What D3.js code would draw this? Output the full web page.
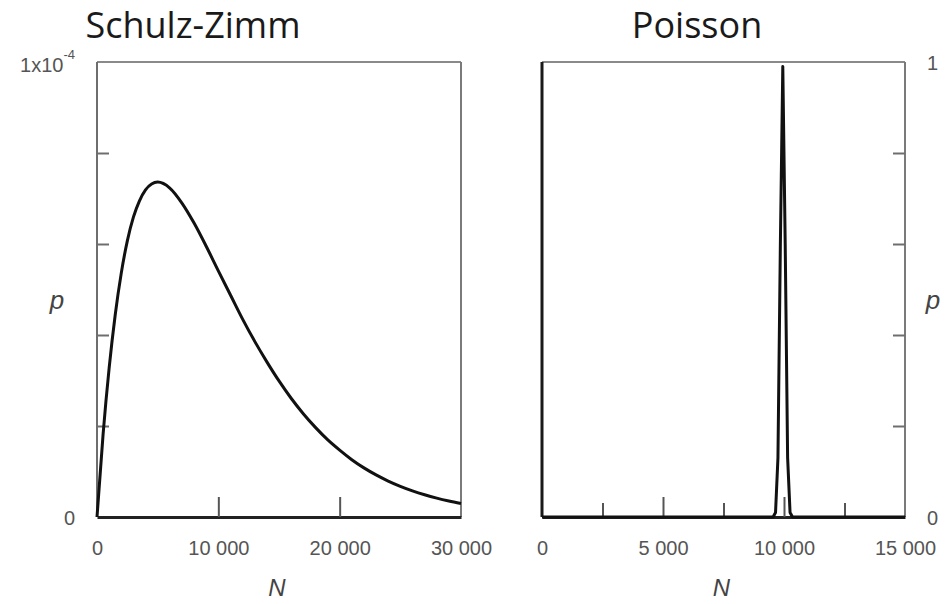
<!DOCTYPE html>
<html><head><meta charset="utf-8">
<script src="https://cdn.jsdelivr.net/npm/d3@7"></script>
<style>
html,body{margin:0;padding:0;background:#fff;}
svg{display:block;}
</style></head>
<body><svg id="chart" width="950" height="604"></svg>
<script>
// ---- data ----
const szN = [0,500,1000,1500,2000,2500,3000,3500,4000,4500,5000,6000,7000,8000,9000,10000,11000,12000,13000,14000,15000,16000,17000,18000,19000,20000,21000,22000,23000,24000,25000,26000,27000,28000,29000,30000];
// p in units of 1e-4
const szP = [0,0.181,0.327,0.444,0.536,0.607,0.659,0.695,0.719,0.732,0.736,0.723,0.690,0.646,0.595,0.541,0.488,0.435,0.386,0.341,0.299,0.261,0.227,0.197,0.170,0.147,0.126,0.108,0.0925,0.079,0.0674,0.0574,0.0488,0.0414,0.0351,0.0297];
const poN = [0,9550,9650,9750,9850,9950,10050,10150,10250,10350,15000];
const poP = [0,0,0.01,0.13,0.6,0.99,0.6,0.13,0.01,0,0];

const titles = ["Schulz-Zimm","Poisson"];
const szXMajor = [0,10000,20000,30000];
const poXMajor = [0,5000,10000,15000];
const poXMinor = [2500,7500,12500];
const yTicks = [0,0.2,0.4,0.6,0.8,1];

const svg = d3.select("#chart");
const fmt = d3.formatLocale({decimal:".",thousands:" ",grouping:[3],currency:["",""]}).format(",");
const plotTop = 62, plotBottom = 517;

function panel(cfg){
  const x = d3.scaleLinear().domain(cfg.xDomain).range(cfg.xRange);
  const y = d3.scaleLinear().domain([0,1]).range([plotBottom, plotTop]);
  const g = svg.append("g");
  const [x0,x1] = cfg.xRange;
  g.append("line").attr("x1",x0).attr("x2",x1).attr("y1",plotTop).attr("y2",plotTop).attr("stroke","#8a8a8a").attr("stroke-width",2);
  g.append("line").attr("x1",x1).attr("x2",x1).attr("y1",plotTop).attr("y2",plotBottom).attr("stroke","#7a7a7a").attr("stroke-width",2);
  g.append("line").attr("x1",x0).attr("x2",x0).attr("y1",plotTop).attr("y2",plotBottom).attr("stroke",cfg.leftDark?"#1a1a1a":"#6e6e6e").attr("stroke-width",cfg.leftDark?3:2);

  const ax = g.append("g").attr("transform",`translate(0,${plotBottom})`)
    .call(d3.axisBottom(x).tickValues(cfg.xMajor).tickSizeInner(-20).tickSizeOuter(0).tickPadding(24).tickFormat(fmt));
  ax.select(".domain").attr("stroke","#222").attr("stroke-width",3);
  ax.selectAll(".tick line").attr("stroke","#555").attr("stroke-width",2)
    .filter(d => d===cfg.xDomain[0] || d===cfg.xDomain[1]).remove();
  ax.selectAll(".tick text").attr("fill","#555").style("font-family","'Liberation Sans',Arial,sans-serif").style("font-size","20px");
  if(cfg.xMinor){
    const axm = g.append("g").attr("transform",`translate(0,${plotBottom})`)
      .call(d3.axisBottom(x).tickValues(cfg.xMinor).tickSizeInner(-14).tickSizeOuter(0).tickFormat(""));
    axm.select(".domain").remove();
    axm.selectAll(".tick line").attr("stroke","#555").attr("stroke-width",2);
  }

  const yAxis = cfg.yRight ? d3.axisRight(y) : d3.axisLeft(y);
  const ay = g.append("g").attr("transform",`translate(${cfg.yRight?x1:x0},0)`)
    .call(yAxis.tickValues(yTicks).tickSizeInner(-12).tickSizeOuter(0).tickPadding(22)
      .tickFormat(d => d===0 ? "0" : (d===1 ? cfg.topLabel : "")));
  ay.select(".domain").remove();
  ay.selectAll(".tick line").attr("stroke","#6e6e6e").attr("stroke-width",2)
    .filter(d => d===0 || d===1).remove();
  ay.selectAll(".tick text").attr("fill","#555").attr("dy","0.36em")
    .style("font-family","'Liberation Sans',Arial,sans-serif").style("font-size","20px");
  if(cfg.sup){
    const t = ay.selectAll(".tick text").filter(d => d===1);
    t.text(null).attr("dy","0.45em");
    t.append("tspan").text(cfg.topLabel);
    t.append("tspan").text(cfg.sup).style("font-size","13px").attr("dy","-0.95em");
  }

  const line = d3.line().x(d => x(d[0])).y(d => y(d[1])).curve(cfg.curve);
  g.append("path").datum(cfg.n.map((v,i)=>[v,cfg.p[i]]))
    .attr("d",line).attr("fill","none").attr("stroke","#111").attr("stroke-width",cfg.sw).attr("stroke-linejoin","round");

  g.append("text").attr("x",cfg.titleX).attr("y",38).attr("text-anchor","middle")
    .style("font-family","'Open Sans',sans-serif").style("font-size","36px").attr("fill","#1a1a1a").text(cfg.title);
  g.append("text").attr("x",(x0+x1)/2 - 2).attr("y",596).attr("text-anchor","middle")
    .style("font-family","'Liberation Sans',Arial,sans-serif").style("font-style","italic").style("font-size","24px").attr("fill","#444").text("N");
  g.append("text").attr("x",cfg.pX).attr("y",309).attr("text-anchor","middle")
    .style("font-family","'Liberation Sans',Arial,sans-serif").style("font-style","italic").style("font-size","26px").attr("fill","#444").text("p");
}

panel({xDomain:[0,30000], xRange:[97,461], xMajor:szXMajor, n:szN, p:szP, curve:d3.curveMonotoneX, sw:3,
  topLabel:"1x10", sup:"-4", yRight:false, leftDark:false, title:titles[0], titleX:193, pX:57});
panel({xDomain:[0,15000], xRange:[542,905], xMajor:poXMajor, xMinor:poXMinor, n:poN, p:poP, curve:d3.curveLinear, sw:3,
  topLabel:"1", yRight:true, leftDark:true, title:titles[1], titleX:697, pX:933});
</script></body></html>
